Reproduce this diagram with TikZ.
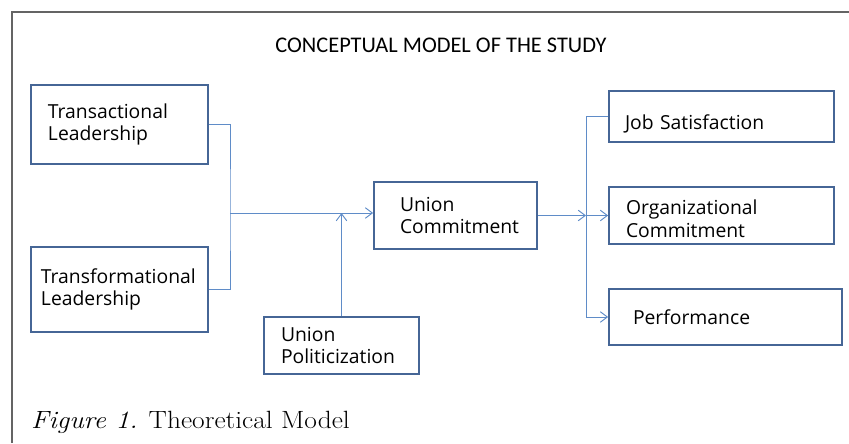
\documentclass[tikz,border=0pt]{standalone}
\usepackage{fontspec}
\usetikzlibrary{arrows.meta}
\newfontfamily\boxfont{Open Sans}
\newfontfamily\ttlfont{Carlito}
\definecolor{boxblue}{RGB}{70,102,150}
\definecolor{linkblue}{RGB}{95,140,200}
\definecolor{framegray}{RGB}{100,100,100}

\begin{document}
\begin{tikzpicture}[x=0.03cm, y=-0.03cm,
	blk/.style={draw=boxblue, line width=1.5pt, align=left, inner ysep=0pt, font=\boxfont\fontsize{16.5}{19}\selectfont},
	conn/.style={draw=linkblue, line width=0.8pt},
	arr/.style={-{Straight Barb[length=6pt, width=9pt]}}]
	\useasboundingbox (0, 0) rectangle (849, 443);
	% Frame and texts:
	\draw[framegray, line width=1.1pt] (12, 443) -- (12, 12) -- (849, 12);
	\node[font=\ttlfont\fontsize{19.1}{23}\selectfont](ttl) at (441, 45){CONCEPTUAL MODEL OF THE STUDY};
	\node[anchor=base west, inner sep=0pt, font=\fontsize{21.3}{25}\selectfont](cap) at (31, 428){\scalebox{1.1}[1]{\textit{Figure 1.} Theoretical Model}};
	% Boxes:
	\node[blk, minimum width=5.31cm, minimum height=2.37cm, inner xsep=0.51cm, text width=4.29cm](trsact) at (119.5, 124.5){Transactional\\Leadership};
	\node[blk, minimum width=5.31cm, minimum height=2.55cm, inner xsep=0.30cm, text width=4.71cm](trsform) at (119.5, 289.5){Transformational\\Leadership};
	\node[blk, minimum width=4.89cm, minimum height=2.01cm, inner xsep=0.78cm, text width=3.33cm](ucom) at (455.5, 215.5){Union\\Commitment};
	\node[blk, minimum width=4.65cm, minimum height=1.71cm, inner xsep=0.51cm, text width=3.63cm](upol) at (341.5, 345.5){Union\\Politicization};
	\node[blk, minimum width=6.75cm, minimum height=1.53cm, inner xsep=0.48cm, text width=5.79cm](job) at (721.5, 116.5){\raisebox{-0.22cm}[\height][\depth]{Job Satisfaction}};
	\node[blk, minimum width=6.75cm, minimum height=1.71cm, inner xsep=0.51cm, text width=5.73cm](org) at (721.5, 215.5){\raisebox{-0.1cm}[\height][\depth]{Organizational}\\\raisebox{-0.1cm}[\height][\depth]{Commitment}};
	\node[blk, minimum width=6.99cm, minimum height=1.68cm, inner xsep=0.72cm, text width=5.55cm](perf) at (725.5, 317){Performance};
	% Connectors:
	\coordinate (jn) at (230, 213);
	\coordinate (sp) at (586, 215.5);
	\draw[conn] (trsact.east) -| (jn) |- (trsform.east);
	\draw[conn, arr] (jn) -- (jn -| ucom.west);
	\draw[conn, arr] (upol.north) -- (upol.north |- jn);
	\draw[conn, arr] (ucom.east) -- (sp);
	\draw[conn] (job.west) -| (sp);
	\draw[conn, arr] (sp) -- (org.west);
	\draw[conn, arr] (sp) |- (perf.west);
\end{tikzpicture}
\end{document}
